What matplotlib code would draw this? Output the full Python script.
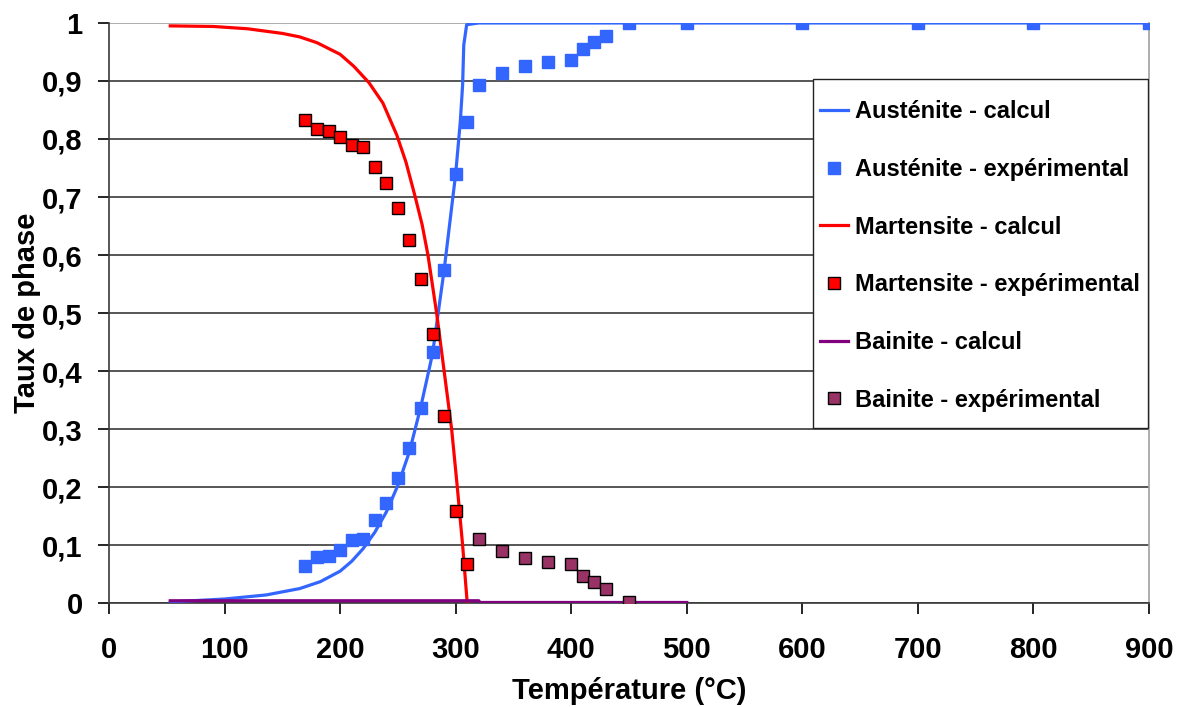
import matplotlib
matplotlib.use("Agg")
import matplotlib.pyplot as plt
from matplotlib.patches import Rectangle

plt.rcParams["font.family"] = ["Liberation Sans", "DejaVu Sans"]
plt.rcParams["font.weight"] = "bold"

# ---------- data ----------
# calculated curves
aus_calc_T = [53, 100, 136, 165, 183, 200, 210, 220, 230, 240, 250, 260, 270, 280, 290, 300, 304, 306, 307, 309.5, 320, 900]
aus_calc_v = [0.002, 0.007, 0.014, 0.025, 0.037, 0.055, 0.072, 0.094, 0.122, 0.157, 0.203, 0.261, 0.34, 0.43, 0.574, 0.74, 0.83, 0.893, 0.962, 0.997, 1.0, 1.0]

mart_calc_T = [53, 90, 120, 150, 165, 180, 200, 212, 225, 237, 249, 257, 265, 271, 276, 283.5, 290, 296.5, 301.4, 306, 310]
mart_calc_v = [0.995, 0.994, 0.99, 0.982, 0.976, 0.966, 0.946, 0.925, 0.897, 0.862, 0.807, 0.76, 0.70, 0.652, 0.60, 0.50, 0.40, 0.30, 0.20, 0.10, 0.0]

bain_calc_T = [53, 320, 321, 500]
bain_calc_v = [0.004, 0.004, 0.001, 0.001]

# experimental points
aus_exp_T = [170, 180, 190, 200, 210, 220, 230, 240, 250, 260, 270, 280, 290, 300, 310,
             320, 340, 360, 380, 400, 410, 420, 430, 450, 500, 600, 700, 800, 900]
aus_exp_v = [0.064, 0.080, 0.081, 0.091, 0.109, 0.110, 0.144, 0.172, 0.216, 0.268, 0.336, 0.432, 0.574, 0.740, 0.830,
             0.893, 0.914, 0.926, 0.933, 0.937, 0.956, 0.967, 0.978, 1.0, 1.0, 1.0, 1.0, 1.0, 1.0]

mart_exp_T = [170, 180, 190, 200, 210, 220, 230, 240, 250, 260, 270, 280, 290, 300, 310]
mart_exp_v = [0.832, 0.818, 0.814, 0.804, 0.790, 0.787, 0.751, 0.724, 0.681, 0.626, 0.559, 0.464, 0.322, 0.159, 0.067]

bain_exp_T = [320, 340, 360, 380, 400, 410, 420, 430, 450]
bain_exp_v = [0.110, 0.090, 0.077, 0.070, 0.067, 0.047, 0.037, 0.025, 0.002]

X_TICKS = [0, 100, 200, 300, 400, 500, 600, 700, 800, 900]
Y_TICKS = [0, 0.1, 0.2, 0.3, 0.4, 0.5, 0.6, 0.7, 0.8, 0.9, 1]
Y_TICKLABELS = ["0", "0,1", "0,2", "0,3", "0,4", "0,5", "0,6", "0,7", "0,8", "0,9", "1"]

BLUE = "#3366FF"
RED = "#FF0000"
PURPLE = "#800080"
PLUM = "#993366"


def main():
    fig = plt.figure(figsize=(11.8, 7.07), dpi=100)
    ax = fig.add_axes([0.0924, 0.147, 0.8813, 0.8205])

    for y in Y_TICKS[:-1]:
        ax.axhline(y, color="#3a3a3a", linewidth=1.2, zorder=0)
    ax.axhline(1, color="#a0a0a0", linewidth=1.2, zorder=0)

    ax.plot(aus_calc_T, aus_calc_v, color=BLUE, linewidth=2.3, label="Austénite - calcul", zorder=3)
    ax.plot(aus_exp_T, aus_exp_v, linestyle="none", marker="s", markersize=9.3,
            markerfacecolor=BLUE, markeredgecolor=BLUE, label="Austénite - expérimental", zorder=4)
    ax.plot(mart_calc_T, mart_calc_v, color=RED, linewidth=2.3, label="Martensite - calcul", zorder=3)
    ax.plot(mart_exp_T, mart_exp_v, linestyle="none", marker="s", markersize=9.3,
            markerfacecolor=RED, markeredgecolor="black", markeredgewidth=1.0,
            label="Martensite - expérimental", zorder=5)
    ax.plot(bain_calc_T, bain_calc_v, color=PURPLE, linewidth=2.3, label="Bainite - calcul", zorder=3)
    ax.plot(bain_exp_T, bain_exp_v, linestyle="none", marker="s", markersize=9.3,
            markerfacecolor=PLUM, markeredgecolor="black", markeredgewidth=1.0,
            label="Bainite - expérimental", zorder=5)

    ax.set_xlim(0, 900)
    ax.set_ylim(0, 1)
    ax.set_xticks(X_TICKS)
    ax.set_yticks(Y_TICKS)
    ax.set_yticklabels(Y_TICKLABELS)
    ax.tick_params(axis="both", direction="out", length=8, width=1.2, labelsize=21, colors="black")
    ax.tick_params(axis="x", pad=16)
    ax.tick_params(axis="y", pad=11)

    ax.spines["top"].set_visible(False)
    ax.spines["right"].set_color("#a0a0a0")
    ax.spines["left"].set_color("#3a3a3a")
    ax.spines["bottom"].set_color("#3a3a3a")
    for s in ax.spines.values():
        s.set_linewidth(1.2)

    ax.set_xlabel("Température (°C)", fontsize=21, fontweight="bold", labelpad=9)
    ax.set_ylabel("Taux de phase", fontsize=21, fontweight="bold", labelpad=1)

    # legend box drawn separately: Excel pads it more vertically than horizontally
    box = Rectangle((0.677, 0.3017), 0.322, 0.6017, transform=ax.transAxes,
                    facecolor="white", edgecolor="#222222", linewidth=1.0, zorder=6)
    ax.add_patch(box)
    leg = ax.legend(loc="upper left", bbox_to_anchor=(0.6837, 0.867), borderaxespad=0,
                    frameon=False, fontsize=17, labelspacing=1.47, handlelength=1.2,
                    handletextpad=0.3, borderpad=0)
    leg.set_zorder(7)

    fig.savefig("out.png", dpi=100)
    plt.close(fig)


if __name__ == "__main__":
    main()
